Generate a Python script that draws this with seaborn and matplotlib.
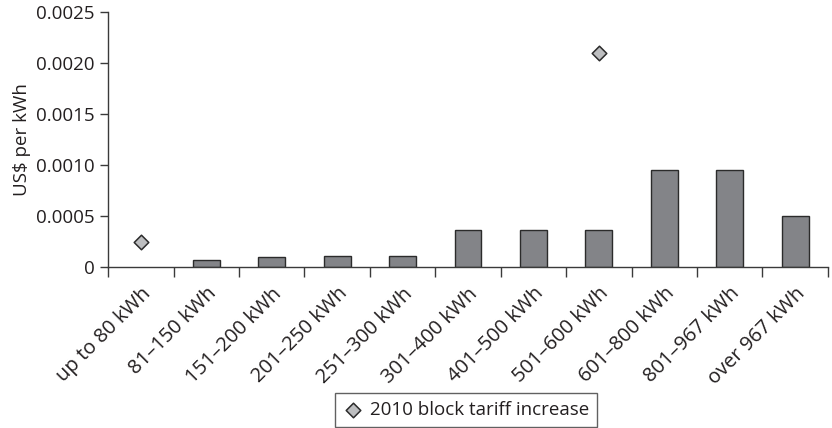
import numpy as np
import pandas as pd
import matplotlib
matplotlib.use('Agg')
import matplotlib.pyplot as plt
import seaborn as sns

# Data
blocks = ['up to 80 kWh', '81–150 kWh', '151–200 kWh', '201–250 kWh', '251–300 kWh',
          '301–400 kWh', '401–500 kWh', '501–600 kWh', '601–800 kWh', '801–967 kWh',
          'over 967 kWh']
tariff = [np.nan, 0.00007, 0.0001, 0.00011, 0.00011, 0.00036, 0.00036, 0.00036,
          0.00095, 0.00095, 0.0005]
increase = [0.00025, np.nan, np.nan, np.nan, np.nan, np.nan, np.nan, 0.0021,
            np.nan, np.nan, np.nan]
yticks = [0, 0.0005, 0.0010, 0.0015, 0.0020, 0.0025]
ytick_labels = ['0', '0.0005', '0.0010', '0.0015', '0.0020', '0.0025']

df = pd.DataFrame({'block': blocks, 'tariff': tariff, 'increase': increase})

sns.set_style('white')
plt.rcParams['font.family'] = ['Open Sans', 'DejaVu Sans']
ink = '#231f20'
fs = 13.5

fig = plt.figure(figsize=(8.32, 4.28), dpi=100)
ax = fig.add_axes([0.13, 0.376, 0.865, 0.596])

sns.barplot(data=df, x='block', y='tariff', color='#838488', saturation=1,
            edgecolor='#2b2b2b', linewidth=1, width=0.41, ax=ax)
sns.scatterplot(data=df, x='block', y='increase', marker='D', s=55,
                color='#bdbec0', edgecolor='#2b2b2b', linewidth=1.1,
                label='2010 block tariff increase', ax=ax, zorder=3)

ax.set_xlim(-0.5, len(blocks) - 0.5)
ax.set_ylim(0, 0.0025)
ax.set_yticks(yticks)
ax.set_yticklabels(ytick_labels)

# tick marks sit on category boundaries, labels at centres
ax.set_xticks(np.arange(-0.5, len(blocks), 1))
ax.set_xticklabels([''] * (len(blocks) + 1))
ax.set_xticks(np.arange(len(blocks)), minor=True)
ax.set_xticklabels(blocks, minor=True, rotation=45, ha='right',
                   rotation_mode='anchor')

ax.tick_params(axis='x', which='major', direction='out', length=7, width=1,
               color='#3a3a3a', bottom=True)
ax.tick_params(axis='x', which='minor', length=0, pad=12, labelsize=14.5,
               labelcolor=ink)
ax.tick_params(axis='y', direction='out', length=6, width=1, color='#3a3a3a',
               left=True, labelsize=fs, labelcolor=ink)

ax.set_xlabel('')
ax.set_ylabel('US$ per kWh', fontsize=fs, color=ink)

sns.despine(ax=ax)
for side in ['left', 'bottom']:
    ax.spines[side].set_color('#3a3a3a')
    ax.spines[side].set_linewidth(1)

leg = ax.legend(loc='center', bbox_to_anchor=(466 / 832, 1 - 410 / 428),
                bbox_transform=fig.transFigure, fontsize=fs, frameon=True,
                fancybox=False, edgecolor='#3a3a3a', handletextpad=0.4,
                borderpad=0.45, handlelength=1.0, labelcolor=ink)
leg.get_frame().set_linewidth(1)

fig.savefig('out.png', dpi=100)
